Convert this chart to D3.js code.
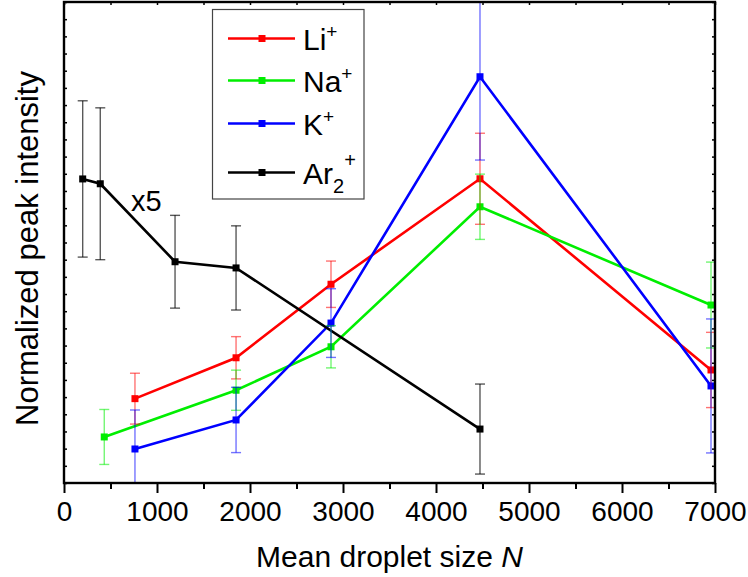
<!DOCTYPE html>
<html>
<head>
<meta charset="utf-8">
<script src="https://cdn.jsdelivr.net/npm/d3@7"></script>
<style>
  html, body { margin: 0; padding: 0; background: #fff; }
  svg { display: block; }
  text { font-family: "Liberation Sans", Arial, Helvetica, sans-serif; fill: #000; }
</style>
</head>
<body>
<svg id="chart" width="748" height="577"></svg>
<script>
// ---------------- data ----------------
const liN   = [763, 1850, 2871, 4473, 6957];
const liY   = [4.91, 7.29, 11.57, 17.71, 6.58];
const liErr = [1.48, 1.23, 1.35, 2.65, 2.19];

const naN   = [433, 1850, 2871, 4473, 6957];
const naY   = [2.68, 5.40, 7.93, 16.08, 10.36];
const naErr = [1.60, 1.17, 1.23, 1.90, 2.50];

const kN    = [763, 1850, 2871, 4473, 6957];
const kY    = [1.98, 3.67, 9.31, 23.65, 5.65];
const kErr  = [2.27, 1.90, 2.00, 4.85, 3.90];

const arN   = [201, 390, 1194, 1850, 4473];
const arY   = [17.70, 17.42, 12.88, 12.52, 3.14];
const arErr = [4.55, 4.42, 2.70, 2.45, 2.62];

const seriesNames  = ["Li", "Na", "K", "Ar"];
const seriesColors = ["#ff0000", "#00ee00", "#0000ff", "#000000"];
const errColors    = ["#ff0000", "#00ee00", "#0000ff", "#000000"];

const xMajorTicks = [0, 1000, 2000, 3000, 4000, 5000, 6000, 7000];
const xMinorTicks = [500, 1500, 2500, 3500, 4500, 5500, 6500];
const yTicks = d3.range(0, 29, 1);

const xTitle = "Mean droplet size ";
const xTitleItalic = "N";
const yTitle = "Normalized peak intensity";
const annotation = "x5";

// ---------------- layout ----------------
const svg = d3.select("#chart");
const L = 64, R = 715, T = 2, B = 483;

const x = d3.scaleLinear().domain([0, 7000]).range([L, R]);
const y = d3.scaleLinear().domain([0, 28]).range([B, T]);

const series = [
  {name: "Li", xs: liN, ys: liY, es: liErr},
  {name: "Na", xs: naN, ys: naY, es: naErr},
  {name: "K",  xs: kN,  ys: kY,  es: kErr},
  {name: "Ar", xs: arN, ys: arY, es: arErr}
].map((s, i) => ({...s, color: seriesColors[i], ecolor: errColors[i],
  pts: s.xs.map((v, j) => ({n: v, v: s.ys[j], e: s.es[j]}))}));

svg.append("defs").append("clipPath").attr("id", "plotclip")
  .append("rect").attr("x", L).attr("y", T).attr("width", R - L).attr("height", B - T);

const plot = svg.append("g").attr("clip-path", "url(#plotclip)");

// lines
const line = d3.line().x(d => x(d.n)).y(d => y(d.v));
series.forEach(s => {
  plot.append("path").datum(s.pts)
    .attr("d", line).attr("fill", "none")
    .attr("stroke", s.color).attr("stroke-width", 2.6);
});
// markers
series.forEach(s => {
  plot.selectAll(null).data(s.pts).enter().append("rect")
    .attr("x", d => x(d.n) - 3.5).attr("y", d => y(d.v) - 3.5)
    .attr("width", 7).attr("height", 7).attr("fill", s.color);
});
// error bars (on top, semi-transparent)
series.forEach(s => {
  const g = plot.append("g").attr("stroke", s.ecolor)
    .attr("stroke-opacity", s.name === "Ar" ? 0.65 : 0.55).attr("stroke-width", 1.4);
  s.pts.forEach(d => {
    const cx = x(d.n), y1 = y(d.v + d.e), y2 = y(d.v - d.e);
    g.append("line").attr("x1", cx).attr("x2", cx).attr("y1", y1).attr("y2", y2);
    g.append("line").attr("x1", cx - 5).attr("x2", cx + 5).attr("y1", y1).attr("y2", y1);
    g.append("line").attr("x1", cx - 5).attr("x2", cx + 5).attr("y1", y2).attr("y2", y2);
  });
});

// ---------------- axes ----------------
// bottom major
const xAxis = svg.append("g").attr("transform", `translate(0,${B})`)
  .call(d3.axisBottom(x).tickValues(xMajorTicks).tickFormat(d3.format("d"))
    .tickSize(10).tickSizeOuter(0).tickPadding(8));
xAxis.select(".domain").remove();
xAxis.selectAll(".tick line").attr("stroke", "#000").attr("stroke-width", 2);
xAxis.selectAll(".tick text").style("font-size", "28px")
  .style("font-family", "'Liberation Sans', Arial, sans-serif");
// bottom minor
const xAxisMinor = svg.append("g").attr("transform", `translate(0,${B})`)
  .call(d3.axisBottom(x).tickValues(xMinorTicks).tickFormat("").tickSize(6).tickSizeOuter(0));
xAxisMinor.select(".domain").remove();
xAxisMinor.selectAll(".tick line").attr("stroke", "#000").attr("stroke-width", 2);
// top ticks (inward)
const xTop = svg.append("g").attr("transform", `translate(0,${T})`)
  .call(d3.axisBottom(x).tickValues(xMajorTicks.concat(xMinorTicks)).tickFormat("").tickSize(3).tickSizeOuter(0));
xTop.select(".domain").remove();
xTop.selectAll(".tick line").attr("stroke", "#000").attr("stroke-width", 1.5);
// left ticks (inward)
const yLeft = svg.append("g").attr("transform", `translate(${L},0)`)
  .call(d3.axisRight(y).tickValues(yTicks).tickFormat("").tickSize(3).tickSizeOuter(0));
yLeft.select(".domain").remove();
yLeft.selectAll(".tick line").attr("stroke", "#000").attr("stroke-width", 1.5);
// right ticks (inward)
const yRight = svg.append("g").attr("transform", `translate(${R},0)`)
  .call(d3.axisLeft(y).tickValues(yTicks).tickFormat("").tickSize(3).tickSizeOuter(0));
yRight.select(".domain").remove();
yRight.selectAll(".tick line").attr("stroke", "#000").attr("stroke-width", 1.5);

// frame
svg.append("rect").attr("x", L).attr("y", T).attr("width", R - L).attr("height", B - T)
  .attr("fill", "none").attr("stroke", "#000").attr("stroke-width", 2.4);

// titles
const xt = svg.append("text").attr("x", (L + R) / 2).attr("y", 567)
  .attr("text-anchor", "middle").style("font-size", "30px");
xt.append("tspan").text(xTitle);
xt.append("tspan").style("font-style", "italic").text(xTitleItalic);

svg.append("text").attr("transform", `translate(38,${(T + B) / 2 + 6}) rotate(-90)`)
  .attr("text-anchor", "middle").style("font-size", "31px").text(yTitle);

// annotation
svg.append("text").attr("x", 131).attr("y", 211).style("font-size", "29px").text(annotation);

// ---------------- legend ----------------
const lg = svg.append("g");
lg.append("rect").attr("x", 212.5).attr("y", 9.5).attr("width", 151.5).attr("height", 189.5)
  .attr("fill", "#fff").attr("stroke", "#444").attr("stroke-width", 1.2);
const rowsY = [38.5, 80.5, 123.5, 172.5];
series.forEach((s, i) => {
  const ry = rowsY[i];
  lg.append("line").attr("x1", 228).attr("x2", 295).attr("y1", ry).attr("y2", ry)
    .attr("stroke", s.color).attr("stroke-width", 2.6);
  lg.append("rect").attr("x", 262 - 3.5).attr("y", ry - 3.5).attr("width", 7).attr("height", 7)
    .attr("fill", s.color);
  const t = lg.append("text").attr("x", 303).attr("y", ry + 11).style("font-size", "30px");
  if (s.name === "Ar") {
    t.append("tspan").text("Ar");
    t.append("tspan").attr("dy", 9).style("font-size", "20px").text("2");
    t.append("tspan").attr("dy", -26).style("font-size", "20px").text("+");
  } else {
    t.append("tspan").text(s.name);
    t.append("tspan").attr("dy", -12).style("font-size", "19px").text("+");
  }
});
</script>
</body>
</html>
